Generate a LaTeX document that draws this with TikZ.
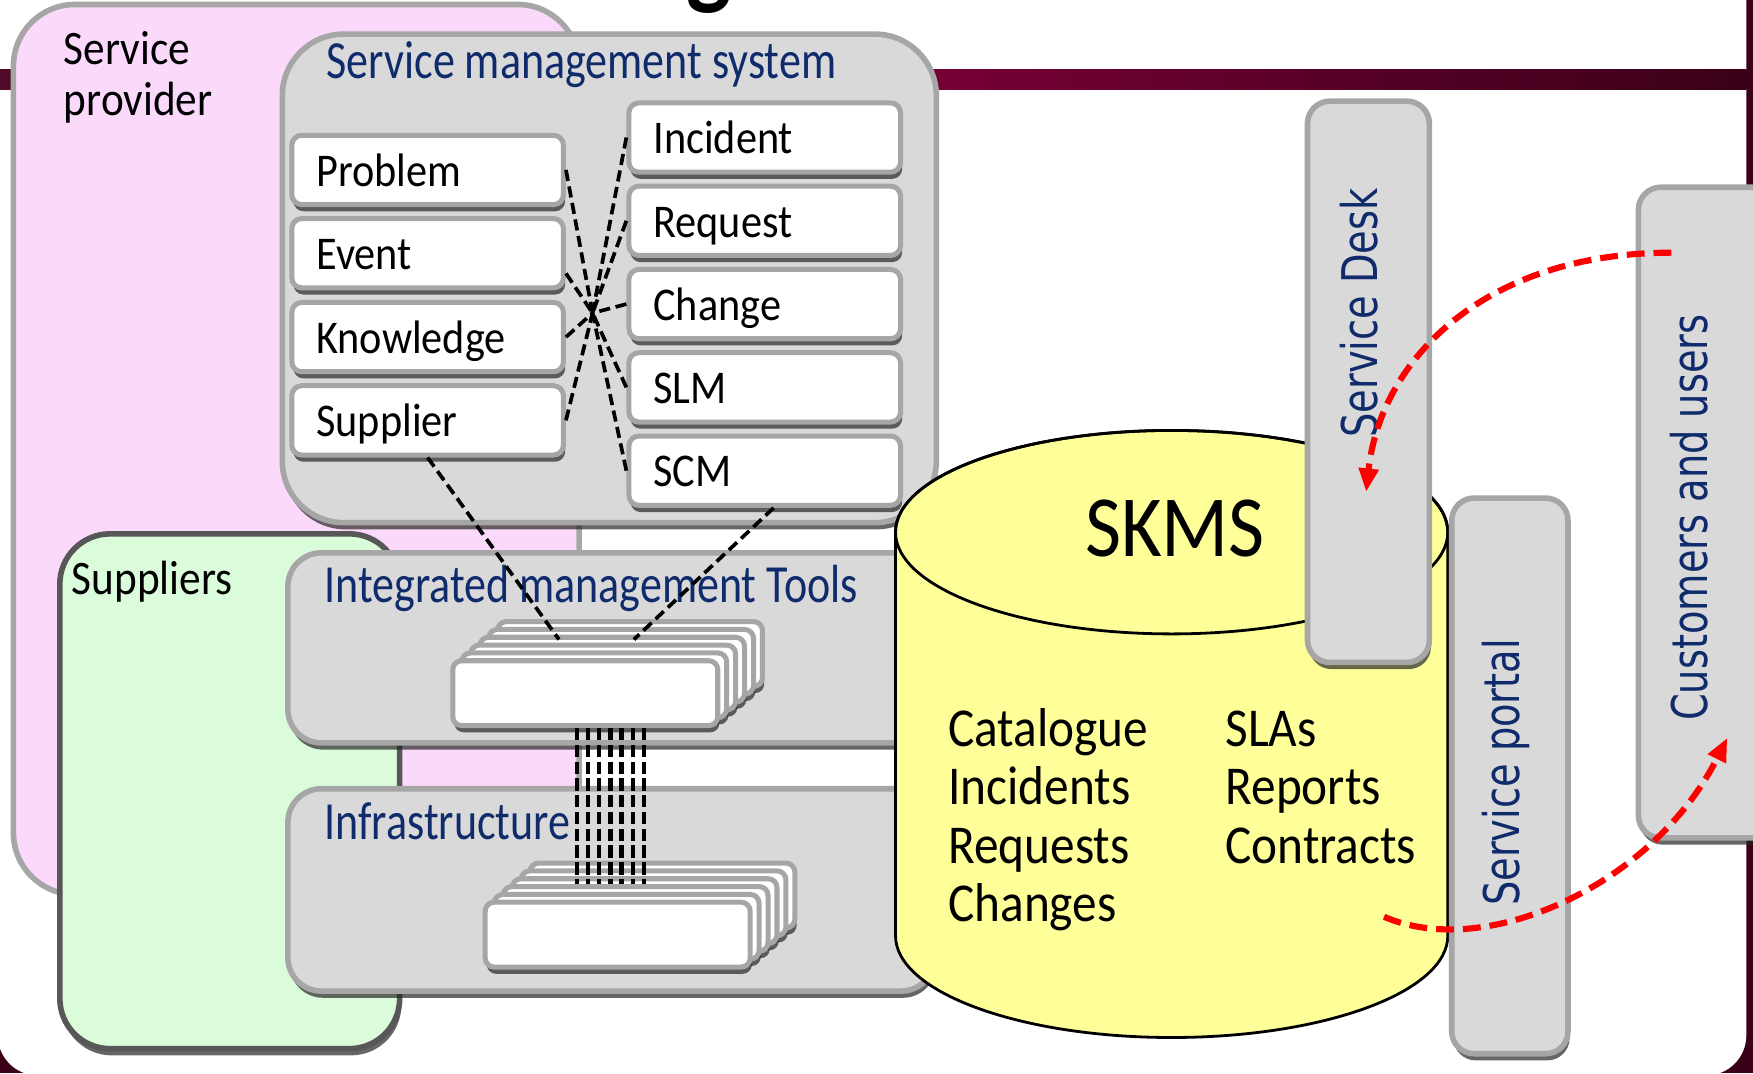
\documentclass[tikz,border=0pt]{standalone}
\usepackage{fontspec}
\setmainfont{Carlito}[FakeStretch=0.9]
\newfontfamily\titlefont{Carlito}[FakeStretch=0.82]
\newfontfamily\barfont{DejaVu Sans}[FakeStretch=0.78]
\usetikzlibrary{shadows,arrows.meta,fit,calc}

\definecolor{boxgray}{HTML}{D9D9D9}
\definecolor{edgegray}{HTML}{A6A6A6}
\definecolor{pinkfill}{HTML}{FBD9FB}
\definecolor{greenfill}{HTML}{DAFCDA}
\definecolor{darkedge}{HTML}{575757}
\definecolor{dbyellow}{HTML}{FFFF99}
\definecolor{navy}{HTML}{0F2B6C}
\definecolor{framedark}{HTML}{3A0018}
\definecolor{framemid}{HTML}{7A0036}
\definecolor{frameleft}{HTML}{520A2A}
\definecolor{flowred}{HTML}{FF0000}

\tikzset{
  boxshadow/.style={drop shadow={shadow xshift=1.5pt, shadow yshift=-6pt, opacity=0.7, fill=black!85}},
  panel/.style={draw=edgegray, fill=boxgray, line width=5pt, inner sep=0pt, boxshadow},
  item/.style={draw=edgegray, fill=white, line width=4.5pt, rounded corners=9pt, boxshadow,
    minimum height=62pt, text width=199pt, inner xsep=22pt, inner ysep=0pt,
    align=left, text height=29pt, text depth=0pt, font=\fontsize{42}{44}\selectfont},
  slab/.style={draw=edgegray, fill=white, line width=4.5pt, rounded corners=8pt, boxshadow,
    minimum width=237pt, minimum height=58pt, inner sep=0pt},
  plain/.style={anchor=base west, inner sep=0pt},
  heading/.style={plain, text=navy, font=\titlefont\fontsize{48}{50}\selectfont},
  listtext/.style={plain, font=\fontsize{49}{52}\selectfont},
  bartext/.style={rotate=90, inner sep=0pt, text=navy, font=\barfont\fontsize{44}{46}\selectfont},
  link/.style={black, line width=3.3pt, dash pattern=on 10pt off 5pt},
  bus/.style={black, line width=3.8pt, dash pattern=on 11pt off 4pt},
  flow/.style={flowred, line width=5.5pt, dash pattern=on 16pt off 8pt,
    -{Triangle[length=21pt, width=17pt]}},
}

\begin{document}
\begin{tikzpicture}[x=1pt, y=-1pt]
\useasboundingbox (0,0) rectangle (1568,960);
\clip (0,0) rectangle (1568,960);

% slide frame with its title rule
\fill[framedark] (0,0) rectangle (1568,960);
\fill[white, rounded corners=36pt] (-2,-60) rectangle (1562,962);
\shade[left color=frameleft, right color=framedark, middle color=framemid] (0,62) rectangle (1562,80);
\node[anchor=base, inner sep=0pt, font=\fontsize{95}{95}\selectfont\bfseries] (titleg) at (634,-4) {g};

% service provider
\node[draw=edgegray, fill=pinkfill, line width=5pt, rounded corners=55pt, inner sep=0pt,
  fit={(12,4) (518,800)}] (provider) {};
\node[plain, font=\fontsize{43}{45}\selectfont] (providerA) at (57,58) {Service};
\node[plain, font=\fontsize{43}{45}\selectfont] (providerB) at (57,103) {provider};

% service management system and its processes
\node[panel, rounded corners=55pt, fit={(252.5,30.5) (837.5,467.5)}] (sms) {};
\node[heading] (smstitle) at (292,70) {Service management system};
\node[item] (problem)   at (382.5,152)   {Problem};
\node[item] (event)     at (382.5,226.5) {Event};
\node[item] (knowledge) at (382.5,301.5) {Knowledge};
\node[item] (supplier)  at (382.5,376)   {Supplier};
\node[item] (incident)  at (684,123)     {Incident};
\node[item] (request)   at (684,197.5)   {Request};
\node[item] (change)    at (684,272)     {Change};
\node[item] (slm)       at (684,346.5)   {SLM};
\node[item] (scm)       at (684,421)     {SCM};

% suppliers
\node[draw=darkedge, fill=greenfill, line width=5pt, rounded corners=45pt, inner sep=0pt, boxshadow,
  fit={(53.5,477.5) (357.5,938)}] (suppliers) {};
\node[plain, font=\fontsize{43}{45}\selectfont] (supplierslbl) at (64,532) {Suppliers};

% tools layer
\node[panel, rounded corners=30pt, fit={(257.5,494.5) (836,664.5)}] (tools) {};
\node[heading] (toolstitle) at (290,539) {Integrated management Tools};
\foreach \k in {5,4,...,0} \node[slab] (tool\k) at (523.5+8*\k, 620-7*\k) {};

% infrastructure layer
\node[panel, rounded corners=30pt, fit={(257.5,705.5) (836,886.5)}] (infra) {};
\node[heading] (infratitle) at (290,751) {Infrastructure};
\foreach \k in {5,4,...,0} \node[slab] (infra\k) at (552.5+8*\k, 836-7*\k) {};

% process interfaces
\coordinate (hub) at (530,280);
\foreach \n in {problem,knowledge,supplier} \draw[link] (\n.east) -- (hub);
\draw[link] ([yshift=-18pt]event.east) -- (hub);
\foreach \n in {incident,request,change,slm,scm} \draw[link] (\n.west) -- (hub);
\coordinate (toolsinA) at (500,572);
\coordinate (toolsinB) at (567,572);
\draw[link] (supplier.south) -- (toolsinA);
\draw[link] ([xshift=8pt]scm.south) -- (toolsinB);
\coordinate (infrain) at (0,791);
\foreach \dx in {-7.5,2.5,...,52.5}
  \draw[bus] ($(tool0.south)+(\dx,0)$) -- ($(tool0.south |- infrain)+(\dx,0)$);

% knowledge base
\path[draw=black, line width=2.5pt, fill=dbyellow] (801,476) -- (801,837)
  arc[start angle=180, end angle=0, x radius=247, y radius=91] -- (1295,476)
  arc[start angle=0, end angle=-180, x radius=247, y radius=91] -- cycle;
\draw[line width=2.5pt] (1048,476) ellipse [x radius=247, y radius=91];
\node[anchor=base, inner sep=0pt, font=\fontsize{78}{80}\selectfont] (skms) at (1051,498) {SKMS};
\node[listtext] (catalogue) at (848,668) {Catalogue};
\node[listtext] (incidents) at (848,720) {Incidents};
\node[listtext] (requests)  at (848,772) {Requests};
\node[listtext] (changes)   at (848,824) {Changes};
\node[listtext] (slas)      at (1096,668) {SLAs};
\node[listtext] (reports)   at (1096,720) {Reports};
\node[listtext] (contracts) at (1096,772) {Contracts};

% access channels
\node[panel, rounded corners=20pt, fit={(1169.5,90.5) (1278.5,592.5)}] (desk) {};
\node[bartext] (desklbl) at (1216,280) {Service Desk};
\node[panel, rounded corners=20pt, fit={(1298.5,445.5) (1402.5,942.5)}] (portal) {};
\node[bartext] (portallbl) at (1347,691) {Service portal};
\node[panel, rounded corners=20pt, fit={(1465.5,167.5) (1640,749.5)}] (customers) {};
\node[bartext] (customerslbl) at (1511,463) {Customers and users};

% request and information flows
\coordinate (fromcust) at (1495,226);
\coordinate (todesk) at (1222,440);
\coordinate (fromdb) at (1238,820);
\coordinate (tocust) at (1545,660);
\draw[flow] (fromcust) .. controls (1330,226) and (1235,320) .. (todesk);
\draw[flow] (fromdb) .. controls (1330,860) and (1480,790) .. (tocust);
\end{tikzpicture}
\end{document}
